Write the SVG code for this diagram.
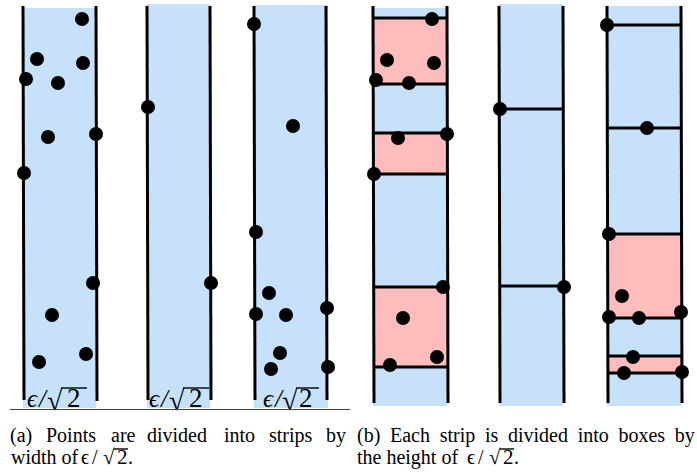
<svg xmlns="http://www.w3.org/2000/svg" width="697" height="476" viewBox="0 0 697 476">
<style>
.strip{fill:#c8e1fb}
.pink{fill:#ffbcbd}
.ln{stroke:#000;stroke-width:3;fill:none;stroke-linecap:butt}
.hl{stroke:#000;stroke-width:3}
.dot{fill:#000}
.lab{font-family:"Liberation Serif","DejaVu Serif",serif;font-size:25px;fill:#000}
.rad{font-size:28px}
.two{font-size:27px}
.vin{stroke:#000;stroke-width:1.4}
.cap{font-family:"Liberation Serif","DejaVu Serif",serif;font-size:20px;fill:#000}
.m{font-size:21px}
</style>
<rect width="697" height="476" fill="#fff"/>

<!-- Panel (a) -->
<g id="a-strip1">
<rect class="strip" x="23" y="8" width="73" height="400"/>
<line class="ln" x1="23" y1="6" x2="24" y2="400"/>
<line class="ln" x1="96" y1="6" x2="97" y2="401"/>
<g class="dot">
<circle cx="82" cy="19" r="7"/><circle cx="37" cy="59" r="7"/><circle cx="83" cy="63" r="7"/>
<circle cx="26" cy="79" r="7"/><circle cx="58" cy="83" r="7"/><circle cx="48" cy="137" r="7"/>
<circle cx="96" cy="134" r="7"/><circle cx="24" cy="173" r="7"/><circle cx="93" cy="283" r="7"/>
<circle cx="52" cy="315" r="7"/><circle cx="86" cy="354" r="7"/><circle cx="39" cy="362" r="7"/>
</g>
<text class="lab" x="27" y="407"><tspan font-style="italic">ϵ</tspan><tspan x="39" font-style="italic">/</tspan><tspan x="47" class="rad" dy="3">√</tspan><tspan x="67" class="two" dy="-3">2</tspan></text>
<line class="vin" x1="61" y1="388" x2="87" y2="388"/>
</g>

<g id="a-strip2">
<rect class="strip" x="147" y="4" width="63" height="404"/>
<line class="ln" x1="147" y1="6" x2="148" y2="400"/>
<line class="ln" x1="210" y1="6" x2="211" y2="400"/>
<g class="dot">
<circle cx="148" cy="107" r="7"/><circle cx="211" cy="283" r="7"/>
</g>
<text class="lab" x="149" y="407"><tspan font-style="italic">ϵ</tspan><tspan x="161" font-style="italic">/</tspan><tspan x="169" class="rad" dy="3">√</tspan><tspan x="189" class="two" dy="-3">2</tspan></text>
<line class="vin" x1="183" y1="388" x2="209" y2="388"/>
</g>

<g id="a-strip3">
<rect class="strip" x="254" y="5" width="74" height="403"/>
<line class="ln" x1="254" y1="6" x2="255" y2="400"/>
<line class="ln" x1="326" y1="6" x2="327" y2="400"/>
<g class="dot">
<circle cx="254" cy="24" r="7"/><circle cx="293" cy="126" r="7"/><circle cx="256" cy="232" r="7"/>
<circle cx="269" cy="293" r="7"/><circle cx="256" cy="314" r="7"/><circle cx="286" cy="315" r="7"/>
<circle cx="327" cy="308" r="7"/><circle cx="280" cy="353" r="7"/><circle cx="271" cy="369" r="7"/>
<circle cx="328" cy="367" r="7"/>
</g>
<text class="lab" x="263" y="407"><tspan font-style="italic">ϵ</tspan><tspan x="275" font-style="italic">/</tspan><tspan x="282" class="rad" dy="3">√</tspan><tspan x="299" class="two" dy="-3">2</tspan></text>
<line class="vin" x1="296" y1="388" x2="319" y2="388"/>
</g>

<line x1="10" y1="409.5" x2="350" y2="409.5" stroke="#444" stroke-width="1.2"/>

<!-- Panel (b) -->
<g id="b-strip1">
<rect class="strip" x="373" y="8" width="74" height="398"/>
<rect class="pink" x="373" y="18" width="74" height="66"/>
<rect class="pink" x="373" y="133" width="74" height="41"/>
<rect class="pink" x="373" y="287" width="74" height="80"/>
<g class="hl">
<line x1="373" y1="18" x2="447" y2="18"/><line x1="373" y1="84" x2="447" y2="84"/>
<line x1="373" y1="133" x2="447" y2="133"/><line x1="373" y1="174" x2="447" y2="174"/>
<line x1="373" y1="287" x2="447" y2="287"/><line x1="373" y1="367" x2="447" y2="367"/>
</g>
<line class="ln" x1="373" y1="6" x2="374" y2="403"/>
<line class="ln" x1="447" y1="6" x2="448" y2="403"/>
<g class="dot">
<circle cx="432" cy="19" r="7"/><circle cx="387" cy="60" r="7"/><circle cx="434" cy="63" r="7"/>
<circle cx="376" cy="80" r="7"/><circle cx="409" cy="83" r="7"/><circle cx="398" cy="138" r="7"/>
<circle cx="447" cy="134" r="7"/><circle cx="374" cy="174" r="7"/><circle cx="443" cy="287" r="7"/>
<circle cx="403" cy="318" r="7"/><circle cx="437" cy="357" r="7"/><circle cx="390" cy="365" r="7"/>
</g>
</g>

<g id="b-strip2">
<rect class="strip" x="499" y="4" width="64" height="402"/>
<g class="hl">
<line x1="499" y1="109" x2="563" y2="109"/><line x1="499" y1="286" x2="563" y2="286"/>
</g>
<line class="ln" x1="499" y1="6" x2="500" y2="403"/>
<line class="ln" x1="563" y1="6" x2="564" y2="403"/>
<g class="dot">
<circle cx="500" cy="109" r="7"/><circle cx="564" cy="287" r="7"/>
</g>
</g>

<g id="b-strip3">
<rect class="strip" x="607" y="6" width="74" height="400"/>
<rect class="pink" x="607" y="234" width="74" height="84"/>
<rect class="pink" x="607" y="356" width="74" height="17"/>
<g class="hl">
<line x1="607" y1="25" x2="681" y2="25"/><line x1="607" y1="128" x2="681" y2="128"/>
<line x1="607" y1="234" x2="681" y2="234"/><line x1="607" y1="318" x2="681" y2="318"/>
<line x1="607" y1="356" x2="681" y2="356"/><line x1="607" y1="373" x2="681" y2="373"/>
</g>
<line class="ln" x1="607" y1="6" x2="608" y2="403"/>
<line class="ln" x1="681" y1="6" x2="682" y2="403"/>
<g class="dot">
<circle cx="607" cy="25" r="7"/><circle cx="647" cy="128" r="7"/><circle cx="609" cy="234" r="7"/>
<circle cx="622" cy="296" r="7"/><circle cx="609" cy="317" r="7"/><circle cx="639" cy="318" r="7"/>
<circle cx="681" cy="312" r="7"/><circle cx="633" cy="357" r="7"/><circle cx="624" cy="373" r="7"/>
<circle cx="682" cy="372" r="7"/>
</g>
</g>

<!-- Captions -->
<g id="caption-a">
<text class="cap" y="442"><tspan x="10">(a)</tspan><tspan x="46">Points</tspan><tspan x="111">are</tspan><tspan x="147">divided</tspan><tspan x="224">into</tspan><tspan x="269">strips</tspan><tspan x="326">by</tspan></text>
<text class="cap" x="11" y="464">width of<tspan x="81">ϵ</tspan><tspan x="92">/</tspan><tspan x="103" class="m">√</tspan><tspan x="117" class="m">2</tspan><tspan x="128">.</tspan></text>
<line class="vin" x1="114" y1="449" x2="128" y2="449" stroke-width="1"/>
</g>
<g id="caption-b">
<text class="cap" x="357" y="442" word-spacing="4.7">(b) Each strip is divided into boxes by</text>
<text class="cap" x="357" y="464">the height of<tspan x="467">ϵ</tspan><tspan x="478">/</tspan><tspan x="489" class="m">√</tspan><tspan x="503" class="m">2</tspan><tspan x="514">.</tspan></text>
<line class="vin" x1="500" y1="449" x2="514" y2="449" stroke-width="1"/>
</g>
</svg>
